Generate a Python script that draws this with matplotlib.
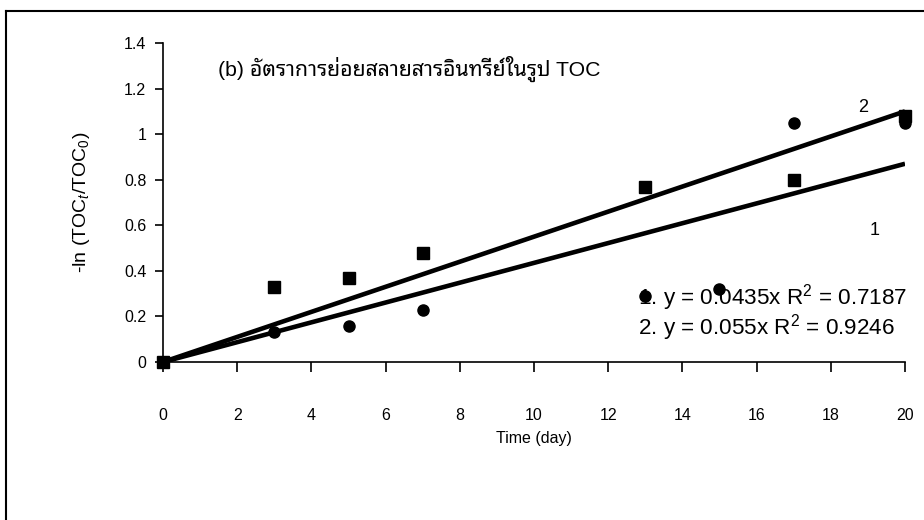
import matplotlib
matplotlib.use("Agg")
import matplotlib.pyplot as plt
from matplotlib.lines import Line2D

# ---- data ----
days_1 = [0, 3, 5, 7, 13, 15, 17, 20]
toc_1 = [0, 0.13, 0.16, 0.23, 0.29, 0.32, 1.05, 1.05]
days_2 = [0, 3, 5, 7, 13, 17, 20]
toc_2 = [0, 0.33, 0.37, 0.48, 0.77, 0.80, 1.08]
slope_1 = 0.0435
slope_2 = 0.055
fit_x = [0, 20]
x_ticks = [0, 2, 4, 6, 8, 10, 12, 14, 16, 18, 20]
y_ticks = [0, 0.2, 0.4, 0.6, 0.8, 1.0, 1.2, 1.4]
y_tick_labels = ["0", "0.2", "0.4", "0.6", "0.8", "1", "1.2", "1.4"]
title_text = "(b) อัตราการย่อยสลายสารอินทรีย์ในรูป TOC"
eq_1 = "1. y = 0.0435x R$^2$ = 0.7187"
eq_2 = "2. y = 0.055x R$^2$ = 0.9246"

FAM = ["Liberation Sans", "Noto Sans Thai Looped", "DejaVu Sans"]
plt.rcParams["font.family"] = FAM
plt.rcParams["mathtext.fontset"] = "custom"
plt.rcParams["mathtext.rm"] = "Liberation Sans"
plt.rcParams["mathtext.it"] = "Liberation Sans:italic"

W, H = 924, 520
fig = plt.figure(figsize=(W / 100, H / 100), dpi=100)
x0, x1 = 163, 905
y0, y1 = 362, 43
ax = fig.add_axes([x0 / W, 1 - y0 / H, (x1 - x0) / W, (y0 - y1) / H])

# figure border (left and top visible)
fig.add_artist(Line2D([6 / W, 6 / W], [-0.1, 1 - 11 / H], color="black", lw=1.5, transform=fig.transFigure))
fig.add_artist(Line2D([6 / W, 1.1], [1 - 11 / H, 1 - 11 / H], color="black", lw=1.5, transform=fig.transFigure))

# trend lines
ax.plot(fit_x, [slope_1 * v for v in fit_x], color="black", lw=3.3, solid_capstyle="butt", zorder=3)
ax.plot(fit_x, [slope_2 * v for v in fit_x], color="black", lw=3.3, solid_capstyle="butt", zorder=3)

# data points
ax.plot(days_1, toc_1, "o", color="black", ms=8, ls="none", clip_on=False, zorder=4)
ax.plot(days_2, toc_2, "s", color="black", ms=8.5, ls="none", clip_on=False, zorder=4)

ax.set_xlim(0, 20)
ax.set_ylim(0, 1.4)
ax.set_xticks(x_ticks)
ax.set_xticklabels([str(t) for t in x_ticks])
ax.set_yticks(y_ticks)
ax.set_yticklabels(y_tick_labels)
for s in ["top", "right"]:
    ax.spines[s].set_visible(False)
ax.spines["left"].set_linewidth(1.2)
ax.spines["bottom"].set_linewidth(1.2)
ax.tick_params(axis="x", direction="out", length=7, width=1.2, pad=26, labelsize=11.5)
ax.tick_params(axis="y", direction="out", length=6, width=1.2, pad=6, labelsize=11.5)

ax.set_ylabel("-ln (TOC$_t$/TOC$_0$)", fontsize=14)
ax.yaxis.set_label_coords(-0.096, 0.5)
ax.set_xlabel("Time (day)", fontsize=11.5)
ax.xaxis.set_label_coords(0.5, -0.215)

ax.text(1.48, 1.286, title_text, fontsize=15.3, va="center", ha="left", family=FAM)
ax.text(12.8, 0.284, eq_1, fontsize=16.2, va="center", ha="left")
ax.text(12.8, 0.149, eq_2, fontsize=16.2, va="center", ha="left")
ax.text(18.87, 1.115, "2", fontsize=13, va="center", ha="center")
ax.text(19.19, 0.577, "1", fontsize=13, va="center", ha="center")

fig.savefig("out.png", dpi=100)
